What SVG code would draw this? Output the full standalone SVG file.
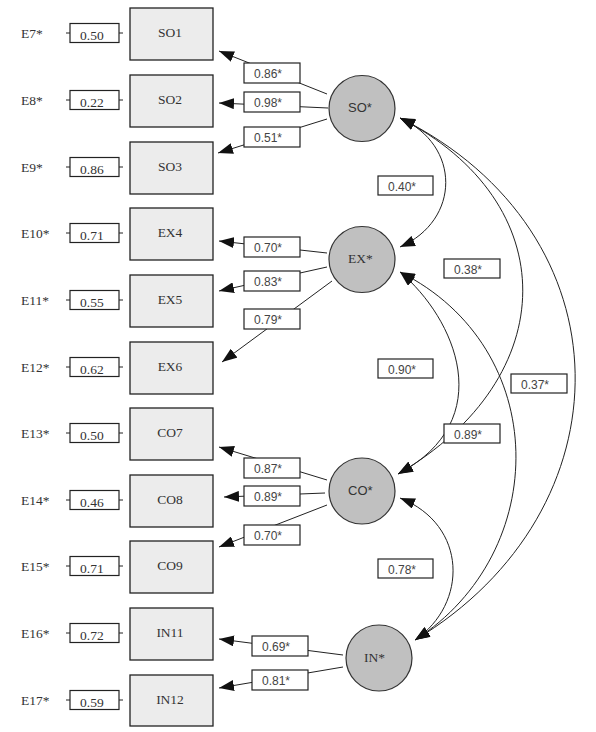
<svg xmlns="http://www.w3.org/2000/svg" width="596" height="732" viewBox="0 0 596 732">
<style>
.bg{fill:#ffffff}
.ind{fill:#ececec;stroke:#222;stroke-width:1.3}
.ebox{fill:#fff;stroke:#222;stroke-width:1.2}
.tick{stroke:#222;stroke-width:1;fill:none}
.lat{fill:#c0c0c0;stroke:#333;stroke-width:1.2}
.lbox{fill:#fff;stroke:#222;stroke-width:1.2}
.ln{stroke:#222;stroke-width:1;fill:none}
.serif{font-family:"Liberation Serif","DejaVu Serif",serif;font-size:13.5px;fill:#333}
.sans{font-family:"Liberation Sans","DejaVu Sans",sans-serif;font-size:12px;fill:#444}
.csans{font-family:"Liberation Sans","DejaVu Sans",sans-serif;font-size:13px;fill:#333}
.mid{text-anchor:middle}
</style>
<defs>
<marker id="ah" viewBox="0 0 15 11" refX="15" refY="5.5" markerWidth="15" markerHeight="11" markerUnits="userSpaceOnUse" orient="auto-start-reverse">
<path d="M0,0 L15,5.5 L0,11 z" fill="#111"/>
</marker>
</defs>
<rect class="bg" x="0" y="0" width="596" height="732"/>

<g id="connectors">
<path class="ln" d="M327,94 L219,51" marker-end="url(#ah)"/>
<path class="ln" d="M328,108 L219,103" marker-end="url(#ah)"/>
<path class="ln" d="M327,119 L218,153" marker-end="url(#ah)"/>
<path class="ln" d="M327,253 L219,241" marker-end="url(#ah)"/>
<path class="ln" d="M327,267 L219,291" marker-end="url(#ah)"/>
<path class="ln" d="M332,281 L222,362" marker-end="url(#ah)"/>
<path class="ln" d="M327,480 L219,447" marker-end="url(#ah)"/>
<path class="ln" d="M325,493 L224,497" marker-end="url(#ah)"/>
<path class="ln" d="M327,505 L219,547" marker-end="url(#ah)"/>
<path class="ln" d="M343,655 L219,639" marker-end="url(#ah)"/>
<path class="ln" d="M343,667 L219,688" marker-end="url(#ah)"/>
<path class="ln" d="M400,118 C461,145 461,220 400,247" marker-start="url(#ah)" marker-end="url(#ah)"/>
<path class="ln" d="M400,118 C564,202 564,377 398,474" marker-start="url(#ah)" marker-end="url(#ah)"/>
<path class="ln" d="M400,118 C631,233 631,510 415,640" marker-start="url(#ah)" marker-end="url(#ah)"/>
<path class="ln" d="M400,272 C455,318 500,420 398,474" marker-start="url(#ah)" marker-end="url(#ah)"/>
<path class="ln" d="M400,272 C552,348 552,552 415,640" marker-start="url(#ah)" marker-end="url(#ah)"/>
<path class="ln" d="M400,498 C468,525 468,604 415,640" marker-start="url(#ah)" marker-end="url(#ah)"/>
<rect class="lbox" x="244" y="63" width="56" height="20"/><text class="sans" x="254" y="78">0.86*</text>
<rect class="lbox" x="244" y="92" width="56" height="20"/><text class="sans" x="254" y="107">0.98*</text>
<rect class="lbox" x="244" y="127" width="56" height="20"/><text class="sans" x="254" y="142">0.51*</text>
<rect class="lbox" x="244" y="237" width="56" height="20"/><text class="sans" x="254" y="252">0.70*</text>
<rect class="lbox" x="244" y="271" width="56" height="20"/><text class="sans" x="254" y="286">0.83*</text>
<rect class="lbox" x="244" y="309" width="56" height="20"/><text class="sans" x="254" y="324">0.79*</text>
<rect class="lbox" x="244" y="458" width="56" height="20"/><text class="sans" x="254" y="473">0.87*</text>
<rect class="lbox" x="244" y="486" width="56" height="20"/><text class="sans" x="254" y="501">0.89*</text>
<rect class="lbox" x="244" y="525" width="56" height="20"/><text class="sans" x="254" y="540">0.70*</text>
<rect class="lbox" x="252" y="636" width="56" height="20"/><text class="sans" x="262" y="651">0.69*</text>
<rect class="lbox" x="252" y="670" width="56" height="20"/><text class="sans" x="262" y="685">0.81*</text>
<rect class="lbox" x="378" y="176" width="55" height="19"/><text class="sans" x="388" y="191">0.40*</text>
<rect class="lbox" x="444" y="259" width="56" height="19"/><text class="sans" x="454" y="274">0.38*</text>
<rect class="lbox" x="378" y="359" width="55" height="19"/><text class="sans" x="388" y="374">0.90*</text>
<rect class="lbox" x="511" y="374" width="56" height="19"/><text class="sans" x="521" y="389">0.37*</text>
<rect class="lbox" x="444" y="424" width="56" height="19"/><text class="sans" x="454" y="439">0.89*</text>
<rect class="lbox" x="378" y="559" width="55" height="19"/><text class="sans" x="388" y="574">0.78*</text>
</g>

<g id="E7"><text class="serif" x="21" y="37.5">E7*</text><path class="tick" d="M66,33H70M119,33H123"/><rect class="ebox" x="70" y="23.5" width="49" height="19"/><text class="serif" x="80" y="39.5">0.50</text></g>
<g id="E8"><text class="serif" x="21" y="104.5">E8*</text><path class="tick" d="M66,100H70M119,100H123"/><rect class="ebox" x="70" y="90.5" width="49" height="19"/><text class="serif" x="80" y="106.5">0.22</text></g>
<g id="E9"><text class="serif" x="21" y="171.5">E9*</text><path class="tick" d="M66,167H70M119,167H123"/><rect class="ebox" x="70" y="157.5" width="49" height="19"/><text class="serif" x="80" y="173.5">0.86</text></g>
<g id="E10"><text class="serif" x="21" y="237.5">E10*</text><path class="tick" d="M66,233H70M119,233H123"/><rect class="ebox" x="70" y="223.5" width="49" height="19"/><text class="serif" x="80" y="239.5">0.71</text></g>
<g id="E11"><text class="serif" x="21" y="304.5">E11*</text><path class="tick" d="M66,300H70M119,300H123"/><rect class="ebox" x="70" y="290.5" width="49" height="19"/><text class="serif" x="80" y="306.5">0.55</text></g>
<g id="E12"><text class="serif" x="21" y="371.5">E12*</text><path class="tick" d="M66,367H70M119,367H123"/><rect class="ebox" x="70" y="357.5" width="49" height="19"/><text class="serif" x="80" y="373.5">0.62</text></g>
<g id="E13"><text class="serif" x="21" y="437.5">E13*</text><path class="tick" d="M66,433H70M119,433H123"/><rect class="ebox" x="70" y="423.5" width="49" height="19"/><text class="serif" x="80" y="439.5">0.50</text></g>
<g id="E14"><text class="serif" x="21" y="504.5">E14*</text><path class="tick" d="M66,500H70M119,500H123"/><rect class="ebox" x="70" y="490.5" width="49" height="19"/><text class="serif" x="80" y="506.5">0.46</text></g>
<g id="E15"><text class="serif" x="21" y="570.5">E15*</text><path class="tick" d="M66,566H70M119,566H123"/><rect class="ebox" x="70" y="556.5" width="49" height="19"/><text class="serif" x="80" y="572.5">0.71</text></g>
<g id="E16"><text class="serif" x="21" y="637.5">E16*</text><path class="tick" d="M66,633H70M119,633H123"/><rect class="ebox" x="70" y="623.5" width="49" height="19"/><text class="serif" x="80" y="639.5">0.72</text></g>
<g id="E17"><text class="serif" x="21" y="704.5">E17*</text><path class="tick" d="M66,700H70M119,700H123"/><rect class="ebox" x="70" y="690.5" width="49" height="19"/><text class="serif" x="80" y="706.5">0.59</text></g>

<g id="SO1"><rect class="ind" x="130" y="8" width="83" height="52"/><text class="serif mid" x="170" y="37">SO1</text></g>
<g id="SO2"><rect class="ind" x="130" y="75" width="83" height="52"/><text class="serif mid" x="170" y="104">SO2</text></g>
<g id="SO3"><rect class="ind" x="130" y="142" width="83" height="52"/><text class="serif mid" x="170" y="171">SO3</text></g>
<g id="EX4"><rect class="ind" x="130" y="208" width="83" height="52"/><text class="serif mid" x="170" y="237">EX4</text></g>
<g id="EX5"><rect class="ind" x="130" y="275" width="83" height="52"/><text class="serif mid" x="170" y="304">EX5</text></g>
<g id="EX6"><rect class="ind" x="130" y="342" width="83" height="52"/><text class="serif mid" x="170" y="371">EX6</text></g>
<g id="CO7"><rect class="ind" x="130" y="408" width="83" height="52"/><text class="serif mid" x="170" y="437">CO7</text></g>
<g id="CO8"><rect class="ind" x="130" y="475" width="83" height="52"/><text class="serif mid" x="170" y="504">CO8</text></g>
<g id="CO9"><rect class="ind" x="130" y="541" width="83" height="52"/><text class="serif mid" x="170" y="570">CO9</text></g>
<g id="IN11"><rect class="ind" x="130" y="608" width="83" height="52"/><text class="serif mid" x="170" y="637">IN11</text></g>
<g id="IN12"><rect class="ind" x="130" y="675" width="83" height="51"/><text class="serif mid" x="170" y="704">IN12</text></g>

<g id="SO"><circle class="lat" cx="362" cy="108.5" r="33"/><text class="csans" x="348" y="112">SO*</text></g>
<g id="EX"><circle class="lat" cx="362" cy="259.5" r="33"/><text class="serif" x="348" y="263">EX*</text></g>
<g id="CO"><circle class="lat" cx="362" cy="491" r="33"/><text class="csans" x="348" y="495">CO*</text></g>
<g id="IN"><circle class="lat" cx="379" cy="658" r="33"/><text class="serif" x="364" y="662">IN*</text></g>
</svg>
